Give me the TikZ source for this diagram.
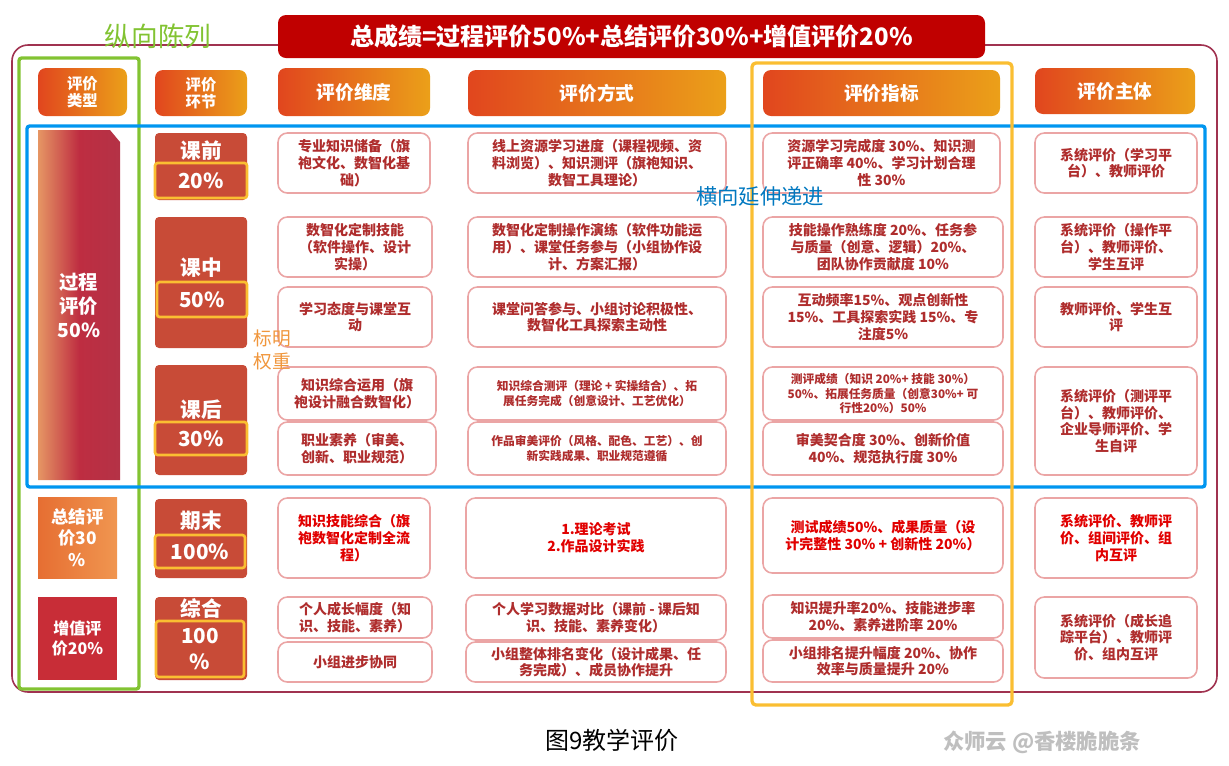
\documentclass[tikz,border=0pt]{standalone}
\usepackage{fontspec}
\setmainfont{Noto Sans CJK SC}
\usetikzlibrary{shadings}
\definecolor{frame}{RGB}{160,50,80}
\definecolor{titlered}{RGB}{192,0,0}
\definecolor{gA}{RGB}{225,70,30}
\definecolor{gB}{RGB}{235,160,25}
\definecolor{brick}{RGB}{200,75,55}
\definecolor{pinkline}{RGB}{235,165,165}
\definecolor{darkred}{RGB}{175,45,45}
\definecolor{brightred}{RGB}{225,0,0}
\definecolor{greenc}{RGB}{130,195,50}
\definecolor{bluec}{RGB}{0,150,240}
\definecolor{yel}{RGB}{250,190,50}
\definecolor{orangetxt}{RGB}{240,150,60}
\tikzset{
 cellbox/.style={draw=pinkline,line width=1.2pt,fill=white,rounded corners=7pt},
 ctext/.style={text=darkred,font=\bfseries\fontsize{10.5}{12.5}\selectfont,align=center},
 csmall/.style={text=darkred,font=\bfseries\fontsize{8.8}{10.8}\selectfont,align=center},
 cred/.style={text=brightred,font=\bfseries\fontsize{10.5}{12.5}\selectfont,align=center},
 hdr/.style={rounded corners=6pt,shading=axis,left color=gA,right color=gB,shading angle=90},
 htext/.style={text=white,font=\bfseries\fontsize{14}{15}\selectfont,align=center},
 htsmall/.style={text=white,font=\bfseries\fontsize{11.5}{13}\selectfont,align=center},
 stage/.style={fill=brick,rounded corners=3pt},
 stext/.style={text=white,font=\bfseries\fontsize{15.5}{17}\selectfont,align=center},
 wbox/.style={draw=yel,line width=2pt,rounded corners=2pt},
}
\newcommand\cell[8]{%
 \path[#6] (#2,#3) rectangle (#4,#5);
 \node[#7] (#1) at ({(#2+#4)/2},{(#3+#5)/2}) {#8};}
\begin{document}
\begin{tikzpicture}[x=0.75pt,y=-0.75pt]
\useasboundingbox (0,0) rectangle (1229,765);
% outer frame
\draw[frame,line width=1.2pt,rounded corners=12pt] (12,45) rectangle (1217,692);
% title
\cell{title}{278}{15}{985}{58}{fill=titlered,rounded corners=6pt}{text=white,font=\bfseries\fontsize{18}{20}\selectfont}{总成绩=过程评价50\%+总结评价30\%+增值评价20\%}
\node[text=greenc,font=\fontsize{20}{22}\selectfont] (zx) at (158,36) {纵向陈列};
% headers
\cell{h1}{38}{68}{127}{116}{hdr}{htsmall}{评价\\类型}
\cell{h2}{155}{70}{247}{116}{hdr}{htsmall}{评价\\环节}
\cell{h3}{278}{68}{430}{116}{hdr}{htext}{评价维度}
\cell{h4}{468}{70}{726}{116}{hdr}{htext}{评价方式}
\cell{h5}{763}{70}{1000}{116}{hdr}{htext}{评价指标}
\cell{h6}{1035}{68}{1195}{114}{hdr}{htext}{评价主体}
% type column
\path[left color={rgb,255:red,230;green,150;blue,100},right color={rgb,255:red,180;green,50;blue,70},middle color={rgb,255:red,190;green,45;blue,65}]
 (38,130) -- (110,130) -- (120,142) -- (120,480) -- (38,480) -- cycle;
\node[htext,font=\bfseries\fontsize{14.5}{18}\selectfont] (t1) at (79,305) {过程\\评价\\50\%};
\cell{t2}{38}{497}{117}{578}{shading=axis,left color={rgb,255:red,230;green,110;blue,50},right color={rgb,255:red,240;green,150;blue,80},shading angle=90}{htext,font=\bfseries\fontsize{13}{16}\selectfont}{总结评\\价30\\\%}
\cell{t3}{38}{597}{117}{680}{fill={rgb,255:red,200;green,45;blue,55}}{htext,font=\bfseries\fontsize{12}{15}\selectfont}{增值评\\价20\%}
% stage column
\path[stage] (155,133) rectangle (247,200);
\node[stext] (s1) at (201,151) {课前};
\path[stage] (155,217) rectangle (247,348);
\node[stext] (s2) at (201,268) {课中};
\path[stage] (155,365) rectangle (247,475);
\node[stext] (s3) at (201,410) {课后};
\path[stage] (155,499) rectangle (247,578);
\node[stext] (s4) at (201,521) {期末};
\path[stage] (155,597) rectangle (247,680);
\node[stext] (s5) at (201,609) {综合};
\cell{p1}{155}{163}{247}{198}{wbox}{stext}{20\%}
\cell{p2}{157}{282}{247}{317}{wbox}{stext}{50\%}
\cell{p3}{155}{422}{247}{455}{wbox}{stext}{30\%}
\cell{p4}{155}{535}{245}{568}{wbox}{stext}{100\%}
\cell{p5}{156}{621}{244}{677}{wbox}{stext,font=\bfseries\fontsize{15.5}{19}\selectfont}{100\\\%}
% dimension column
\cell{d1}{278}{133}{430}{193}{cellbox}{ctext}{专业知识储备（旗\\袍文化、数智化基\\础）}
\cell{d2}{278}{217}{432}{277}{cellbox}{ctext}{数智化定制技能\\（软件操作、设计\\实操）}
\cell{d3}{278}{287}{432}{347}{cellbox}{ctext}{学习态度与课堂互\\动}
\cell{d4}{278}{367}{436}{420}{cellbox}{ctext}{知识综合运用（旗\\袍设计融合数智化）}
\cell{d5}{278}{422}{436}{475}{cellbox}{ctext}{职业素养（审美、\\创新、职业规范）}
\cell{d6}{278}{498}{430}{578}{cellbox}{cred}{知识技能综合（旗\\袍数智化定制全流\\程）}
\cell{d7}{278}{597}{432}{638}{cellbox}{ctext}{个人成长幅度（知\\识、技能、素养）}
\cell{d8}{278}{642}{432}{682}{cellbox}{ctext}{小组进步协同}
\node[text=orangetxt,font=\fontsize{14}{17}\selectfont,align=left] (bm) at (272,350) {标明\\权重};
% method column
\cell{m1}{468}{133}{726}{193}{cellbox}{ctext}{线上资源学习进度（课程视频、资\\料浏览）、知识测评（旗袍知识、\\数智工具理论）}
\cell{m2}{468}{217}{726}{277}{cellbox}{ctext}{数智化定制操作演练（软件功能运\\用）、课堂任务参与（小组协作设\\计、方案汇报）}
\cell{m3}{468}{287}{726}{347}{cellbox}{ctext}{课堂问答参与、小组讨论积极性、\\数智化工具探索主动性}
\cell{m4}{468}{367}{726}{420}{cellbox}{csmall}{知识综合测评（理论 + 实操结合）、拓\\展任务完成（创意设计、工艺优化）}
\cell{m5}{468}{422}{726}{475}{cellbox}{csmall}{作品审美评价（风格、配色、工艺）、创\\新实践成果、职业规范遵循}
\cell{m6}{466}{498}{726}{578}{cellbox}{cred}{1.理论考试\\2.作品设计实践}
\cell{m7}{466}{595}{726}{640}{cellbox}{ctext}{个人学习数据对比（课前 - 课后知\\识、技能、素养变化）}
\cell{m8}{466}{642}{726}{682}{cellbox}{ctext}{小组整体排名变化（设计成果、任\\务完成）、成员协作提升}
% indicator column
\cell{i1}{763}{133}{1000}{193}{cellbox}{ctext}{资源学习完成度 30\%、知识测\\评正确率 40\%、学习计划合理\\性 30\%}
\cell{i2}{763}{217}{1003}{277}{cellbox}{ctext}{技能操作熟练度 20\%、任务参\\与质量（创意、逻辑）20\%、\\团队协作贡献度 10\%}
\cell{i3}{763}{287}{1003}{347}{cellbox}{ctext}{互动频率15\%、观点创新性\\15\%、工具探索实践 15\%、专\\注度5\%}
\cell{i4}{763}{367}{1003}{420}{cellbox}{csmall}{测评成绩（知识 20\%+ 技能 30\%）\\50\%、拓展任务质量（创意30\%+ 可\\行性20\%）50\%}
\cell{i5}{763}{422}{1003}{475}{cellbox}{ctext}{审美契合度 30\%、创新价值\\40\%、规范执行度 30\%}
\cell{i6}{763}{498}{1003}{573}{cellbox}{cred}{测试成绩50\%、成果质量（设\\计完整性 30\% + 创新性 20\%）}
\cell{i7}{763}{595}{1003}{638}{cellbox}{ctext}{知识提升率20\%、技能进步率\\20\%、素养进阶率 20\%}
\cell{i8}{763}{640}{1003}{682}{cellbox}{ctext}{小组排名提升幅度 20\%、协作\\效率与质量提升 20\%}
% subject column
\cell{b1}{1035}{133}{1197}{193}{cellbox}{ctext}{系统评价（学习平\\台）、教师评价}
\cell{b2}{1035}{217}{1197}{277}{cellbox}{ctext}{系统评价（操作平\\台）、教师评价、\\学生互评}
\cell{b3}{1035}{287}{1197}{347}{cellbox}{ctext}{教师评价、学生互\\评}
\cell{b4}{1035}{367}{1197}{475}{cellbox}{ctext}{系统评价（测评平\\台）、教师评价、\\企业导师评价、学\\生自评}
\cell{b5}{1035}{498}{1197}{578}{cellbox}{cred}{系统评价、教师评\\价、组间评价、组\\内互评}
\cell{b6}{1035}{597}{1197}{678}{cellbox}{ctext}{系统评价（成长追\\踪平台）、教师评\\价、组内互评}
% overlay frames
\draw[greenc,line width=2.5pt,rounded corners=2pt] (19,58) rectangle (139,689);
\draw[bluec,line width=2.5pt,rounded corners=2pt] (27,126) rectangle (1205,487);
\draw[yel,line width=2.5pt,rounded corners=3pt] (752,63) rectangle (1012,705);
\node[text=bluec!80!black,font=\fontsize{16}{18}\selectfont] (hx) at (760,196) {横向延伸递进};
% caption
\node[font=\fontsize{18}{20}\selectfont] (cap) at (612,740) {图9教学评价};
\node[text=black!25,font=\bfseries\fontsize{16}{18}\selectfont] (wm) at (1042,742) {众师云 @香楼脆脆条};
\end{tikzpicture}
\end{document}
